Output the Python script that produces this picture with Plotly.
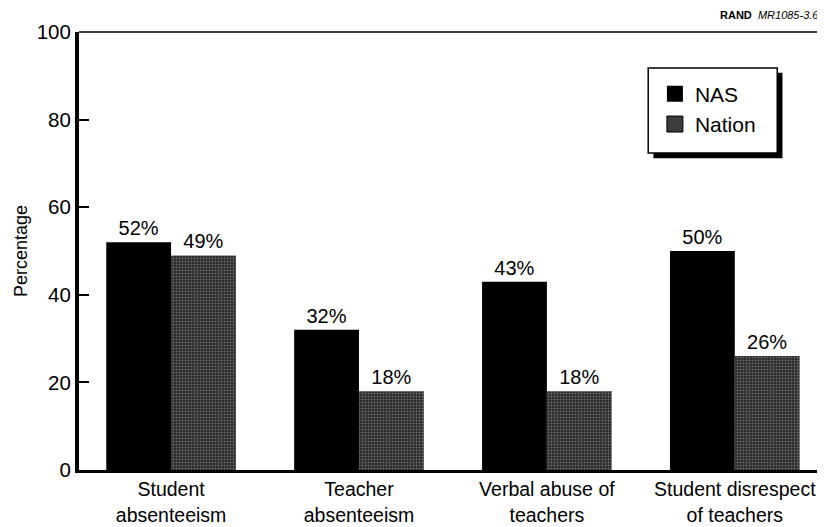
import plotly.graph_objects as go

categories = ["Student<br>absenteeism", "Teacher<br>absenteeism", "Verbal abuse of<br>teachers", "Student disrespect<br>of teachers"]
nas = [52, 32, 43, 50]
nation = [49, 18, 18, 26]
yticks = [0, 20, 40, 60, 80, 100]

x = list(range(len(categories)))
font = "Liberation Sans, Arial, sans-serif"

fig = go.Figure()
fig.add_trace(go.Bar(
    x=x, y=nas, name="NAS", showlegend=False,
    marker=dict(color="#000000", line=dict(width=0)),
    text=[f"{v}%" for v in nas], textposition="outside",
    textfont=dict(size=20, color="black", family=font), cliponaxis=False,
))
fig.add_trace(go.Bar(
    x=x, y=nation, name="Nation", showlegend=False,
    marker=dict(color="#2a2a2a", line=dict(width=0),
                pattern=dict(shape=".", fgcolor="#b0b0b0", bgcolor="#2a2a2a", size=3, solidity=0.35)),
    text=[f"{v}%" for v in nation], textposition="outside",
    textfont=dict(size=20, color="black", family=font), cliponaxis=False,
))
# legend entries with large square swatches
fig.add_trace(go.Scatter(x=[None], y=[None], mode="markers", name="NAS",
                         marker=dict(symbol="square", size=21, color="#000000")))
fig.add_trace(go.Scatter(x=[None], y=[None], mode="markers", name="Nation",
                         marker=dict(symbol="square", size=21, color="#3c3c3c",
                                     line=dict(color="#000000", width=1))))

fig.update_layout(
    width=817, height=519,
    margin=dict(l=71, r=0, t=24, b=57, autoexpand=False),
    plot_bgcolor="white", paper_bgcolor="white",
    barmode="group", bargap=0.31, bargroupgap=0,
    font=dict(family=font, color="black", size=18),
    showlegend=True,
    legend=dict(x=0.772, y=0.905, xanchor="left", yanchor="top",
                bgcolor="rgba(0,0,0,0)", borderwidth=0,
                font=dict(size=21), itemsizing="trace", tracegroupgap=10, itemwidth=30),
    xaxis=dict(range=[-0.49, 3.48], tickmode="array", tickvals=x, ticktext=categories,
               showline=True, linecolor="black", linewidth=3, ticks="", showgrid=False,
               tickfont=dict(size=19.5), zeroline=False, automargin=False),
    yaxis=dict(range=[0, 100], tickvals=yticks, showline=True, linecolor="black", linewidth=4,
               ticks="inside", ticklen=10, tickwidth=1.5, tickcolor="black", showgrid=False,
               zeroline=False, tickfont=dict(size=20.5), automargin=False,
               title=dict(text="Percentage", font=dict(size=18), standoff=5)),
)

# top border line
fig.add_shape(type="line", xref="paper", yref="paper", x0=0, x1=1, y0=1, y1=1,
              line=dict(color="black", width=1.5))
# legend shadow and box
fig.add_shape(type="rect", xref="paper", yref="paper", x0=0.770, x1=0.943, y0=0.712, y1=0.907,
              fillcolor="black", line=dict(width=0), layer="above")
fig.add_shape(type="rect", xref="paper", yref="paper", x0=0.763, x1=0.936, y0=0.724, y1=0.918,
              fillcolor="white", line=dict(color="black", width=1.5), layer="above")

fig.add_annotation(text="<b>RAND</b>  <i>MR1085-3.6</i>", xref="paper", yref="paper",
                   x=0.995, y=1.02, xanchor="right", yanchor="bottom", showarrow=False,
                   font=dict(size=11, family=font))

fig.write_html("out.html")
